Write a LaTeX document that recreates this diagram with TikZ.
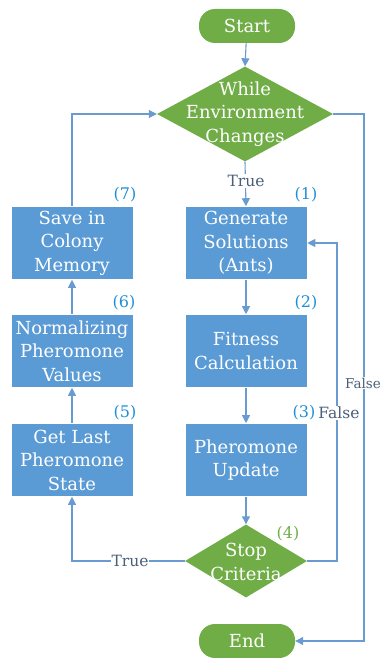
\documentclass[tikz,border=0pt]{standalone}
\usepackage{fontspec}
\setmainfont{DejaVu Serif}
\usetikzlibrary{shapes.geometric,arrows.meta}
\definecolor{boxblue}{HTML}{5B9BD5}
\definecolor{dgreen}{HTML}{70AD47}
\definecolor{linecol}{HTML}{6A9BD0}
\definecolor{numblue}{HTML}{1E8FD5}
\definecolor{lblgray}{HTML}{4A5F7A}
\tikzset{
  procbox/.style={rectangle, fill=boxblue, draw=white, line width=0.6pt, minimum width=122pt, minimum height=73pt, inner sep=0pt, align=center, text=white, font=\fontsize{18}{23.5}\selectfont},
  pill/.style={rectangle, rounded corners=16pt, fill=dgreen, minimum width=96pt, minimum height=34pt, inner sep=0pt, text=white, font=\fontsize{18}{23.5}\selectfont},
  decis/.style={diamond, fill=dgreen, inner sep=0pt},
  dtext/.style={align=center, text=white, font=\fontsize{18}{23.5}\selectfont, inner sep=0pt},
  num/.style={text=numblue, font=\fontsize{16}{18}\selectfont, inner sep=0pt},
  numg/.style={text=dgreen, font=\fontsize{16}{18}\selectfont, inner sep=0pt},
  lbl/.style={text=lblgray, fill=white, font=\fontsize{15.5}{18}\selectfont, inner sep=1pt},
  conn/.style={draw=linecol, line width=1.1pt, -{Triangle[length=8pt,width=8pt]}},
  plain/.style={draw=linecol, line width=1.1pt}
}
\begin{document}
\begin{tikzpicture}[x=1pt,y=-1pt]
\useasboundingbox (0,0) rectangle (382,658);
% terminals
\node[pill] (start) at (247,26) {Start};
\node[pill] (end) at (247,641) {End};
% decisions
\node[decis, minimum width=176pt, minimum height=95pt] (d1) at (245,114) {};
\node[dtext] (d1t) at (245,114) {While\\Environment\\Changes};
\node[decis, minimum width=122pt, minimum height=73pt] (d2) at (246,561) {};
\node[dtext] (d2t) at (246,562) {Stop\\Criteria};
% process boxes
\node[procbox] (b1) at (246,243) {Generate\\Solutions\\(Ants)};
\node[procbox] (b2) at (246,351) {Fitness\\Calculation};
\node[procbox] (b3) at (246,460) {Pheromone\\Update};
\node[procbox] (b7) at (72,243) {Save in\\Colony\\Memory};
\node[procbox] (b6) at (72,351) {Normalizing\\Pheromone\\Values};
\node[procbox] (b5) at (72,460) {Get Last\\Pheromone\\State};
% numbers
\node[num] (n1) at (306,195) {(1)};
\node[num] (n2) at (306,303) {(2)};
\node[num] (n3) at (304,413) {(3)};
\node[numg] (n4) at (288,534) {(4)};
\node[num] (n5) at (125,413) {(5)};
\node[num] (n6) at (124,303) {(6)};
\node[num] (n7) at (125,195) {(7)};
% connectors
\draw[conn] (start) -- (d1.north);
\draw[conn] (d1.south) -- (b1.north);
\node[lbl] (ltrue1) at (246,181) {True};
\draw[conn] (b1) -- (b2);
\draw[conn] (b2) -- (b3);
\draw[conn] (b3) -- (d2.north);
% stop criteria true -> left column
\coordinate (c1) at (72,561);
\draw[conn] (d2.west) -- (c1) -- (b5.south);
\node[lbl] (ltrue2) at (130,561) {True};
\draw[conn] (b5) -- (b6);
\draw[conn] (b6) -- (b7);
\coordinate (c2) at (72,114);
\draw[conn] (b7.north) -- (c2) -- (d1.west);
% stop criteria false -> generate
\coordinate (c3) at (337,561);
\coordinate (c4) at (337,243);
\draw[conn] (d2.east) -- (c3) -- (c4) -- (b1.east);
\node[lbl] (lfalse1) at (339,413) {False};
% while false -> end
\coordinate (c5) at (364,114);
\coordinate (c6) at (364,641);
\draw[conn] (d1.east) -- (c5) -- (c6) -- (end.east);
\node[lbl, font=\fontsize{13.5}{16}\selectfont] (lfalse2) at (363,383) {False};
\end{tikzpicture}
\end{document}
